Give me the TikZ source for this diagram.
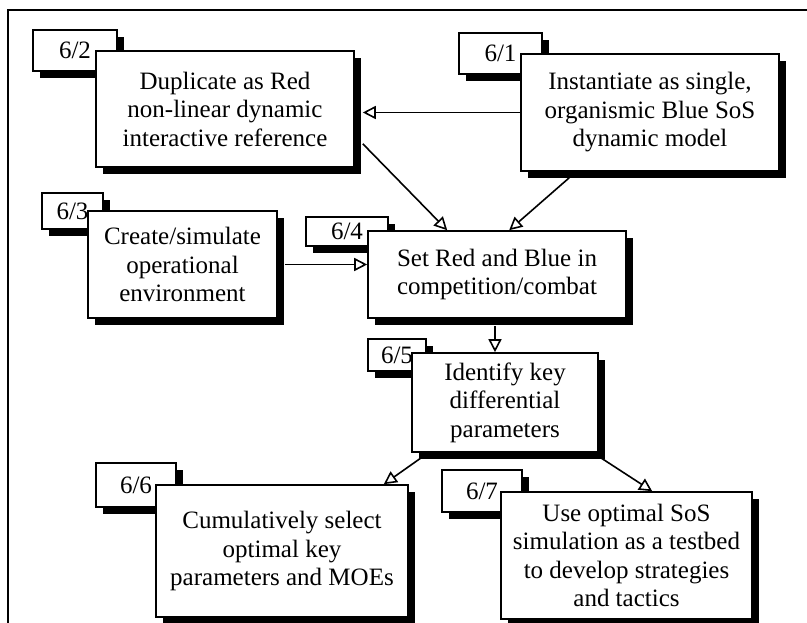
\documentclass[tikz,border=0pt]{standalone}
\usepackage{fontspec}
\setmainfont{Liberation Serif}
\usetikzlibrary{shadows,arrows.meta,calc}

\tikzset{
  shadowed/.style={draw=black, line width=1.6pt, fill=white,
    drop shadow={shadow xshift=7pt, shadow yshift=-7pt, fill=black, opacity=1}},
  tagbox/.style={shadowed, inner sep=0pt, font=\fontsize{25}{28.5}\selectfont},
  stepbox/.style={shadowed, inner sep=0pt, align=center,
    font=\fontsize{25}{28.5}\selectfont},
  flow/.style={line width=1.6pt, -{Triangle[length=13pt, width=13pt, fill=white]}},
  frame/.style={line width=2.7pt}
}

\begin{document}
\begin{tikzpicture}[x=1pt, y=-1pt]
\useasboundingbox (0,0) rectangle (807,623);

% outer frame (top and left edges)
\coordinate (fr) at (807,10);
\coordinate (fc) at (8,10);
\coordinate (fb) at (8,623);
\draw[frame] (fr) -- (fc) -- (fb);

% step 6/2
\node[tagbox, minimum width=84pt, minimum height=41pt] (L2) at (75,50.5) {6/2};
\node[stepbox, minimum width=258pt, minimum height=116pt] (B2) at (225,109)
  {Duplicate as Red\\non-linear dynamic\\interactive reference};

% step 6/1
\node[tagbox, minimum width=83pt, minimum height=41pt] (L1) at (500.5,53.5) {6/1};
\node[stepbox, minimum width=258pt, minimum height=117pt] (B1) at (650,112.5)
  {Instantiate as single,\\organismic Blue SoS\\dynamic model};

% step 6/3
\node[tagbox, minimum width=61pt, minimum height=36pt] (L3) at (72.5,211) {6/3\hspace{4pt}};
\node[stepbox, minimum width=189pt, minimum height=107pt] (B3) at (182.5,264.5)
  {Create/simulate\\operational\\environment};

% step 6/4
\node[tagbox, minimum width=82pt, minimum height=29pt] (L4) at (347,231.5) {6/4};
\node[stepbox, minimum width=258pt, minimum height=87pt] (B4) at (497,274.5)
  {Set Red and Blue in\\competition/combat};

% step 6/5
\node[tagbox, minimum width=58pt, minimum height=32pt] (L5) at (397,355) {6/5};
\node[stepbox, minimum width=186pt, minimum height=99pt] (B5) at (505,402.5)
  {Identify key\\differential\\parameters};

% step 6/6
\node[tagbox, minimum width=80pt, minimum height=44pt] (L6) at (136,485) {6/6};
\node[stepbox, minimum width=252pt, minimum height=132pt] (B6) at (282,551)
  {Cumulatively select\\optimal key\\parameters and MOEs};

% step 6/7
\node[tagbox, minimum width=80pt, minimum height=42pt] (L7) at (482,491) {6/7};
\node[stepbox, minimum width=251pt, minimum height=127pt] (B7) at (626.5,555.5)
  {Use optimal SoS\\simulation as a testbed\\to develop strategies\\and tactics};

% connector end points
\coordinate (s4) at ($(B4.south)+(-2,7)$);
\coordinate (t5) at ($(B5.north)+(-10,0)$);

% connectors
\draw[flow, shorten >=8pt] (B1.west) -- (B1.west -| B2.east);
\draw[flow] ($(B2.south east)+(8,-24)$) -- ($(B4.north west)+(80,0)$);
\draw[flow] ($(B1.south west)+(49,6)$) -- ($(B4.north west)+(142,0)$);
\draw[flow] ($(B3.east)+(7,0)$) -- (B3.east -| B4.west);
\draw[flow] (s4) -- (t5);
\draw[flow] ($(B5.south west)+(10,5)$) -- ($(B6.north east)+(-25,0)$);
\draw[flow] ($(B5.south east)+(2,5)$) -- ($(B7.north west)+(152,0)$);
\end{tikzpicture}
\end{document}
